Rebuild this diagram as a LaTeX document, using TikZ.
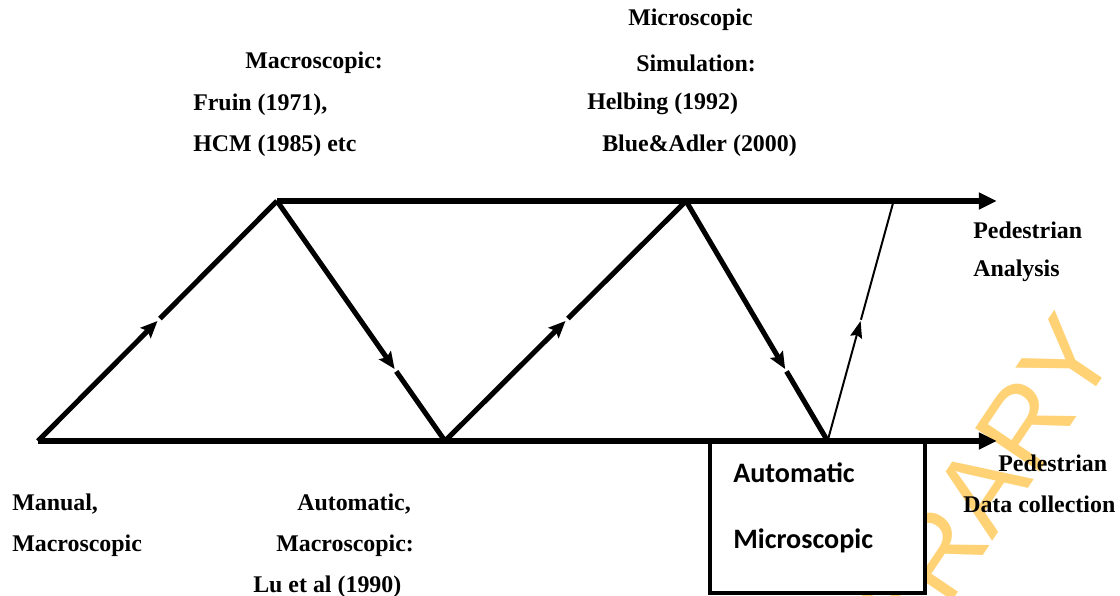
\documentclass[tikz,border=0pt]{standalone}
\usepackage{fontspec}
\setmainfont{Liberation Serif}
\newfontfamily\boxfont{Carlito}
\newfontfamily\wmfont{Liberation Sans}
\usepackage{tikz}
\usetikzlibrary{arrows.meta}
\definecolor{wmorange}{RGB}{255,210,118}

\tikzset{
  heavy/.style={line width=3.6pt},
  light/.style={line width=1.4pt},
  midtip/.style={-{Stealth[length=0.42cm,width=0.36cm,inset=0.07cm]}},
  endtip/.style={-{Triangle[length=0.45cm,width=0.4cm]}},
  lbl/.style={anchor=west,inner sep=0pt,font=\fontsize{17}{20}\selectfont\bfseries}
}

\begin{document}
\begin{tikzpicture}
\useasboundingbox (0,0) rectangle (28,-14.9);
% watermark
\begin{scope}
\clip (0,0) rectangle (28,-14.9);
\node[rotate=56,anchor=base east,inner sep=0pt,text=wmorange,
  font=\wmfont\fontsize{80}{80}\selectfont] (wm) at (28.02,-8.78) {LIBRARY};
\end{scope}

\coordinate (A) at (0.95,-11.025);
\coordinate (B) at (6.925,-5.025);
\coordinate (C) at (11.125,-11.025);
\coordinate (D) at (17.15,-5.025);
\coordinate (E) at (20.69,-11.025);
\coordinate (F) at (22.34,-5.025);
\coordinate (topend) at (24.92,-5.025);
\coordinate (botend) at (24.92,-11.025);

% box
\draw[line width=3pt,fill=white] (17.75,-11.025) rectangle (23.125,-14.825);
\node[lbl,font=\boxfont\fontsize{20}{24}\selectfont\bfseries] (bx1) at (18.325,-11.825) {Automatic};
\node[lbl,font=\boxfont\fontsize{20}{24}\selectfont\bfseries] (bx2) at (18.325,-13.525) {Microscopic};

% time lines
\draw[heavy,endtip] (B) -- (topend);
\draw[heavy,endtip] (A) -- (botend);

% zig-zag
\path (A) -- (B) coordinate[pos=0.5] (ab1) coordinate[pos=0.51] (ab2);
\path (B) -- (C) coordinate[pos=0.7] (bc1) coordinate[pos=0.71] (bc2);
\path (C) -- (D) coordinate[pos=0.5] (cd1) coordinate[pos=0.51] (cd2);
\path (D) -- (E) coordinate[pos=0.7] (de1) coordinate[pos=0.71] (de2);
\path (E) -- (F) coordinate[pos=0.5] (ef1) coordinate[pos=0.505] (ef2);
\draw[heavy,midtip] (A) -- (ab1);
\draw[heavy] (ab2) -- (B);
\draw[heavy,midtip] (B) -- (bc1);
\draw[heavy] (bc2) -- (C);
\draw[heavy,midtip] (C) -- (cd1);
\draw[heavy] (cd2) -- (D);
\draw[heavy,midtip] (D) -- (de1);
\draw[heavy] (de2) -- (E);
\draw[light,-{Stealth[length=0.42cm,width=0.3cm,inset=0.06cm]}] (E) -- (ef1);
\draw[light] (ef2) -- (F);

% labels
\node[lbl] (mac) at (6.125,-1.575) {Macroscopic:};
\node[lbl] (fruin) at (4.825,-2.625) {Fruin (1971),};
\node[lbl] (hcm) at (4.825,-3.65) {HCM (1985) etc};
\node[lbl] (mic) at (15.7,-0.5) {Microscopic};
\node[lbl] (sim) at (15.9,-1.575) {Simulation:};
\node[lbl] (helb) at (14.675,-2.6) {Helbing (1992)};
\node[lbl] (blue) at (15.05,-3.65) {Blue\&Adler (2000)};
\node[lbl] (pa1) at (24.325,-5.75) {Pedestrian};
\node[lbl] (pa2) at (24.325,-6.775) {Analysis};
\node[lbl] (pd1) at (24.95,-11.575) {Pedestrian};
\node[lbl] (pd2) at (24.075,-12.6) {Data collection};
\node[lbl] (man1) at (0.3,-12.6) {Manual,};
\node[lbl] (man2) at (0.3,-13.65) {Macroscopic};
\node[lbl] (aut1) at (7.425,-12.6) {Automatic,};
\node[lbl] (aut2) at (6.9,-13.65) {Macroscopic:};
\node[lbl] (aut3) at (6.325,-14.675) {Lu et al (1990)};
\end{tikzpicture}
\end{document}
